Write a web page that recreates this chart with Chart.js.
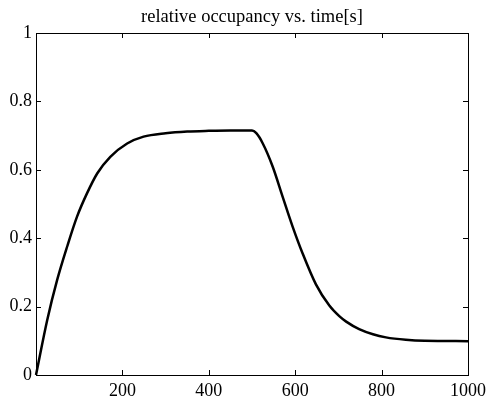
<!DOCTYPE html>
<html lang="en">
<head>
    <meta charset="UTF-8">
    <title>relative occupancy vs. time[s]</title>
    <script src="https://cdn.jsdelivr.net/npm/chart.js"></script>
    <style>
        html, body { margin: 0; padding: 0; background: #fff; }
        #wrap { width: 491px; height: 399px; }
    </style>
</head>
<body>
    <div id="wrap"><canvas id="occChart" width="491" height="399"></canvas></div>
    <script>
        // values
        const timeSec = [0, 26, 49, 72, 95, 118, 142, 172, 211, 249, 300, 350, 400, 450, 500, 510, 525, 548, 571, 594, 617, 648, 679, 702, 718, 748, 780, 810, 856, 900, 1000];
        const occupancy = [0, 0.161, 0.278, 0.375, 0.463, 0.531, 0.59, 0.638, 0.677, 0.697, 0.707, 0.712, 0.714, 0.715, 0.715, 0.707, 0.677, 0.609, 0.521, 0.434, 0.356, 0.265, 0.203, 0.172, 0.156, 0.134, 0.119, 0.11, 0.103, 0.1, 0.099];
        const xTicks = [0, 200, 400, 600, 800, 1000];
        const yTicks = [0, 0.2, 0.4, 0.6, 0.8, 1];
        const titleText = 'relative occupancy vs. time[s]';

        const serif = '"Liberation Serif", "Times New Roman", serif';

        // box around plot area with inward ticks on all four sides, plus title
        const matlabBox = {
            id: 'matlabBox',
            afterDraw(chart) {
                const ctx = chart.ctx;
                const a = chart.chartArea;
                const xs = chart.scales.x, ys = chart.scales.y;
                const len = 5;
                ctx.save();
                ctx.strokeStyle = '#000';
                ctx.lineWidth = 1;
                ctx.strokeRect(a.left + 0.5, a.top + 0.5, a.right - a.left, a.bottom - a.top);
                ctx.beginPath();
                xTicks.forEach(v => {
                    const px = Math.round(xs.getPixelForValue(v)) + 0.5;
                    ctx.moveTo(px, a.bottom); ctx.lineTo(px, a.bottom - len);
                    ctx.moveTo(px, a.top); ctx.lineTo(px, a.top + len);
                });
                yTicks.forEach(v => {
                    const py = Math.round(ys.getPixelForValue(v)) + 0.5;
                    ctx.moveTo(a.left, py); ctx.lineTo(a.left + len, py);
                    ctx.moveTo(a.right, py); ctx.lineTo(a.right - len, py);
                });
                ctx.stroke();
                ctx.fillStyle = '#000';
                ctx.font = '18.5px ' + serif;
                ctx.textAlign = 'center';
                ctx.textBaseline = 'alphabetic';
                ctx.fillText(titleText, (a.left + a.right) / 2, 22);
                ctx.restore();
            }
        };

        new Chart(document.getElementById('occChart'), {
            type: 'line',
            data: {
                datasets: [{
                    data: timeSec.map((t, i) => ({ x: t, y: occupancy[i] })),
                    borderColor: '#000',
                    borderWidth: 2.5,
                    pointRadius: 0,
                    fill: false,
                    cubicInterpolationMode: 'monotone'
                }]
            },
            options: {
                responsive: false,
                animation: false,
                clip: false,
                layout: { padding: { left: 0, right: 22, top: 33, bottom: 0 } },
                plugins: { legend: { display: false }, tooltip: { enabled: false }, title: { display: false } },
                scales: {
                    x: {
                        type: 'linear', min: 0, max: 1000,
                        grid: { display: false, drawTicks: false },
                        border: { display: false },
                        afterBuildTicks: s => { s.ticks = xTicks.map(v => ({ value: v })); },
                        afterFit: s => { s.height = 24; },
                        ticks: {
                            color: '#000', padding: 5,
                            font: { family: serif, size: 18 },
                            maxRotation: 0,
                            callback: v => v === 0 ? '' : String(v)
                        }
                    },
                    y: {
                        min: 0, max: 1,
                        grid: { display: false, drawTicks: false },
                        border: { display: false },
                        afterBuildTicks: s => { s.ticks = yTicks.map(v => ({ value: v })); },
                        afterFit: s => { s.width = 36; },
                        ticks: {
                            color: '#000', padding: 4,
                            font: { family: serif, size: 18 },
                            callback: v => String(Math.round(v * 10) / 10)
                        }
                    }
                }
            },
            plugins: [matlabBox]
        });
    </script>
</body>
</html>
